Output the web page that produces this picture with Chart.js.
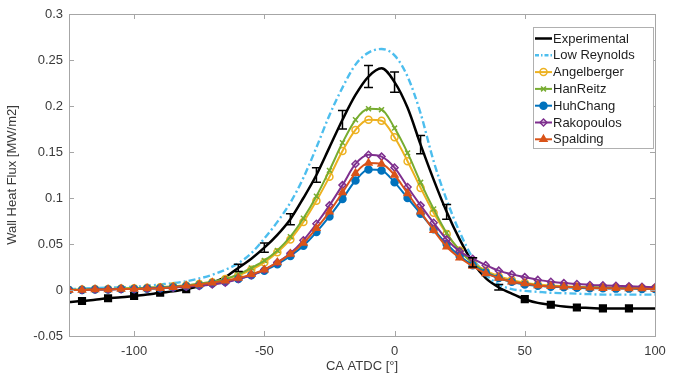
<!DOCTYPE html>
<html>
<head>
<meta charset="utf-8">
<script src="https://cdn.jsdelivr.net/npm/chart.js@4.4.1/dist/chart.umd.min.js"></script>
<style>
  html, body { margin: 0; padding: 0; background: #fff; }
  #contenedor { width: 679px; height: 375px; }
</style>
</head>
<body>
<div id="contenedor"><canvas id="grafico" width="679" height="375"></canvas></div>
<script>
// Ángulo de cigüeñal (CA ATDC, grados)
const angulos = [-125, -120, -115, -110, -105, -100, -95, -90, -85, -80, -75, -70, -65, -60, -55, -50,
  -45, -40, -35, -30, -25, -20, -15, -10, -5, 0, 5, 10, 15, 20, 25, 30, 35, 40, 45, 50, 55, 60, 65, 70,
  75, 80, 85, 90, 95, 100];

// Flujo de calor en pared [MW/m2] por modelo
const flujoExperimental = [-0.013, -0.012, -0.0105, -0.009, -0.008, -0.0065, -0.005, -0.003, -0.0015, 0.001,
  0.004, 0.008, 0.014, 0.024, 0.034, 0.046, 0.06, 0.077, 0.1, 0.125, 0.155, 0.185, 0.212, 0.232, 0.241,
  0.226, 0.198, 0.158, 0.12, 0.085, 0.055, 0.03, 0.013, 0.003, -0.004, -0.01, -0.014, -0.016, -0.018,
  -0.019, -0.0195, -0.02, -0.02, -0.02, -0.02, -0.02];
const flujoLowReynolds = [0.001, 0.0015, 0.002, 0.0025, 0.003, 0.0035, 0.0045, 0.006, 0.0075, 0.0095,
  0.0125, 0.0165, 0.022, 0.029, 0.04, 0.056, 0.074, 0.095, 0.122, 0.155, 0.19, 0.22, 0.245, 0.258, 0.262,
  0.255, 0.232, 0.192, 0.14, 0.098, 0.063, 0.035, 0.017, 0.006, 0.001, -0.001, -0.002, -0.003, -0.0035,
  -0.004, -0.0045, -0.005, -0.005, -0.005, -0.005, -0.005];
const flujoAngelberger = [0.0, 0.0005, 0.001, 0.001, 0.0015, 0.002, 0.0025, 0.003, 0.004, 0.005, 0.0065,
  0.0085, 0.012, 0.016, 0.022, 0.03, 0.041, 0.055, 0.074, 0.097, 0.123, 0.151, 0.174, 0.185, 0.184, 0.166,
  0.14, 0.111, 0.084, 0.061, 0.043, 0.03, 0.021, 0.015, 0.011, 0.008, 0.006, 0.005, 0.004, 0.0035, 0.003,
  0.003, 0.0025, 0.0025, 0.002, 0.002];
const flujoHanReitz = [0.0, 0.0005, 0.001, 0.001, 0.0015, 0.002, 0.0025, 0.003, 0.004, 0.005, 0.007,
  0.009, 0.012, 0.017, 0.024, 0.032, 0.043, 0.058, 0.078, 0.102, 0.13, 0.16, 0.185, 0.197, 0.196, 0.176,
  0.149, 0.117, 0.088, 0.062, 0.043, 0.029, 0.02, 0.013, 0.009, 0.007, 0.005, 0.004, 0.0035, 0.003, 0.003,
  0.0025, 0.0025, 0.002, 0.002, 0.002];
const flujoHuhChang = [0.0, 0.0, 0.0005, 0.0005, 0.001, 0.001, 0.0015, 0.002, 0.003, 0.004, 0.005, 0.007,
  0.009, 0.012, 0.016, 0.021, 0.028, 0.037, 0.048, 0.063, 0.08, 0.099, 0.119, 0.131, 0.13, 0.117, 0.1,
  0.083, 0.066, 0.05, 0.037, 0.027, 0.019, 0.013, 0.009, 0.006, 0.0045, 0.0035, 0.003, 0.0025, 0.002,
  0.002, 0.0015, 0.0015, 0.001, 0.001];
const flujoRakopoulos = [0.0, 0.0, 0.0005, 0.0005, 0.001, 0.001, 0.0015, 0.002, 0.0025, 0.0035, 0.0045,
  0.006, 0.008, 0.012, 0.016, 0.022, 0.03, 0.04, 0.054, 0.072, 0.092, 0.114, 0.137, 0.147, 0.145, 0.133,
  0.112, 0.092, 0.073, 0.055, 0.042, 0.034, 0.027, 0.021, 0.017, 0.014, 0.011, 0.009, 0.0075, 0.0065,
  0.0055, 0.005, 0.0045, 0.004, 0.0035, 0.003];
const flujoSpalding = [0.0, 0.0, 0.0005, 0.0005, 0.001, 0.001, 0.0015, 0.002, 0.003, 0.0045, 0.006, 0.008,
  0.01, 0.013, 0.017, 0.022, 0.03, 0.039, 0.051, 0.067, 0.085, 0.106, 0.127, 0.138, 0.137, 0.125, 0.105,
  0.085, 0.065, 0.047, 0.035, 0.026, 0.018, 0.013, 0.009, 0.007, 0.005, 0.004, 0.0035, 0.003, 0.0025,
  0.002, 0.002, 0.0015, 0.0015, 0.001];

// Barras de error del experimento (semi-amplitud) y puntos cuadrados
const angulosError = [-60, -50, -40, -30, -20, -10, 0, 10, 20, 30, 40];
const errorExperimental = [0.004, 0.005, 0.006, 0.008, 0.01, 0.012, 0.011, 0.01, 0.008, 0.005, 0.003];
const angulosCuadrados = [-120, -110, -100, -90, -80, 50, 60, 70, 80, 90];

// Marcas de los ejes
const ticksX = [-100, -50, 0, 50, 100];
const ticksY = [-0.05, 0, 0.05, 0.1, 0.15, 0.2, 0.25, 0.3];

const fuente = '"Liberation Sans", Arial, Helvetica, sans-serif';
const colorTexto = '#3a3a3a';
const colorEje = '#a6a6a6';

function serie(valores) {
  return angulos.map((a, i) => ({ x: a, y: valores[i] }));
}

function modelo(nombre, valores, color, estilo, relleno, orden) {
  return {
    label: nombre,
    data: serie(valores),
    borderColor: color,
    borderWidth: 2,
    pointStyle: estilo,
    pointRadius: estilo === 'triangle' ? 4 : 3.5,
    pointBorderWidth: 1.5,
    pointBorderColor: color,
    pointBackgroundColor: relleno ? color : 'rgba(0,0,0,0)',
    cubicInterpolationMode: 'monotone',
    order: orden
  };
}

const datasets = [
  {
    label: 'Experimental',
    data: serie(flujoExperimental),
    borderColor: '#000000',
    borderWidth: 2.5,
    pointStyle: 'rect',
    pointRadius: ctx => angulosCuadrados.includes(angulos[ctx.dataIndex]) ? 4 : 0,
    pointBackgroundColor: '#000000',
    pointBorderColor: '#000000',
    cubicInterpolationMode: 'monotone',
    order: 7
  },
  {
    label: 'Low Reynolds',
    data: serie(flujoLowReynolds),
    borderColor: '#4DBEEE',
    borderWidth: 2.4,
    borderDash: [7, 3, 2, 3],
    pointRadius: 0,
    cubicInterpolationMode: 'monotone',
    order: 6
  },
  modelo('Angelberger', flujoAngelberger, '#EDB120', 'circle', false, 5),
  modelo('HanReitz', flujoHanReitz, '#77AC30', 'crossRot', false, 4),
  modelo('HuhChang', flujoHuhChang, '#0072BD', 'circle', true, 3),
  modelo('Rakopoulos', flujoRakopoulos, '#7E2F8E', 'rectRot', false, 2),
  modelo('Spalding', flujoSpalding, '#D95319', 'triangle', true, 1)
];

// Dibuja un marcador pequeño para la leyenda
function dibujarMarcador(ctx, ds, x, y) {
  const estilo = ds.pointStyle;
  if (!estilo || typeof ds.pointRadius !== 'number' || ds.pointRadius === 0) return;
  const r = ds.pointRadius;
  ctx.save();
  ctx.strokeStyle = ds.pointBorderColor;
  ctx.fillStyle = ds.pointBackgroundColor;
  ctx.lineWidth = ds.pointBorderWidth;
  ctx.beginPath();
  if (estilo === 'circle') {
    ctx.arc(x, y, r, 0, Math.PI * 2);
  } else if (estilo === 'crossRot') {
    const d = r * Math.SQRT1_2;
    ctx.moveTo(x - d, y - d); ctx.lineTo(x + d, y + d);
    ctx.moveTo(x + d, y - d); ctx.lineTo(x - d, y + d);
  } else if (estilo === 'rectRot') {
    ctx.moveTo(x, y - r); ctx.lineTo(x + r, y); ctx.lineTo(x, y + r); ctx.lineTo(x - r, y); ctx.closePath();
  } else if (estilo === 'triangle') {
    ctx.moveTo(x, y - r); ctx.lineTo(x + r * 0.87, y + r * 0.5); ctx.lineTo(x - r * 0.87, y + r * 0.5); ctx.closePath();
  }
  if (estilo !== 'crossRot') ctx.fill();
  ctx.stroke();
  ctx.restore();
}

const extras = {
  id: 'extras',
  afterDatasetsDraw(chart) {
    const { ctx, scales: { x, y } } = chart;
    ctx.save();
    ctx.strokeStyle = '#000000';
    ctx.lineWidth = 1.5;
    angulosError.forEach((a, i) => {
      const v = flujoExperimental[angulos.indexOf(a)];
      const e = errorExperimental[i];
      const px = x.getPixelForValue(a);
      const y1 = y.getPixelForValue(v + e);
      const y2 = y.getPixelForValue(v - e);
      ctx.beginPath();
      ctx.moveTo(px, y1); ctx.lineTo(px, y2);
      ctx.moveTo(px - 4.5, y1); ctx.lineTo(px + 4.5, y1);
      ctx.moveTo(px - 4.5, y2); ctx.lineTo(px + 4.5, y2);
      ctx.stroke();
    });
    ctx.restore();
  },
  afterDraw(chart) {
    const { ctx, chartArea: a, scales: { x, y } } = chart;
    ctx.save();
    // Caja de los ejes
    ctx.strokeStyle = colorEje;
    ctx.lineWidth = 1;
    ctx.strokeRect(Math.round(a.left) + 0.5, Math.round(a.top) + 0.5,
      Math.round(a.right - a.left), Math.round(a.bottom - a.top));
    // Marcas hacia dentro
    ctx.beginPath();
    ticksX.forEach(v => {
      const px = Math.round(x.getPixelForValue(v)) + 0.5;
      if (px <= a.left + 1 || px >= a.right - 1) return;
      ctx.moveTo(px, a.bottom); ctx.lineTo(px, a.bottom - 5);
      ctx.moveTo(px, a.top); ctx.lineTo(px, a.top + 5);
    });
    ticksY.forEach(v => {
      const py = Math.round(y.getPixelForValue(v)) + 0.5;
      if (py <= a.top + 1 || py >= a.bottom - 1) return;
      ctx.moveTo(a.left, py); ctx.lineTo(a.left + 5, py);
      ctx.moveTo(a.right, py); ctx.lineTo(a.right - 5, py);
    });
    ctx.stroke();

    // Leyenda dentro del área
    const lx = 533, ly = 27, lw = 120, lh = 121;
    ctx.fillStyle = '#ffffff';
    ctx.fillRect(lx, ly, lw, lh);
    ctx.strokeStyle = '#b0b0b0';
    ctx.strokeRect(lx + 0.5, ly + 0.5, lw, lh);
    ctx.font = '13px ' + fuente;
    ctx.textBaseline = 'middle';
    chart.data.datasets.forEach((ds, i) => {
      const yy = ly + 11.5 + i * 16.8;
      ctx.save();
      ctx.strokeStyle = ds.borderColor;
      ctx.lineWidth = ds.borderWidth;
      if (ds.borderDash) ctx.setLineDash([4, 2, 1.5, 2]);
      ctx.beginPath();
      ctx.moveTo(lx + 2, yy); ctx.lineTo(lx + 19, yy);
      ctx.stroke();
      ctx.restore();
      dibujarMarcador(ctx, ds, lx + 10.5, yy);
      ctx.fillStyle = '#1e1e1e';
      ctx.fillText(ds.label, lx + 20, yy + 0.5);
    });
    ctx.restore();
  }
};

new Chart(document.getElementById('grafico').getContext('2d'), {
  type: 'line',
  data: { datasets: datasets },
  plugins: [extras],
  options: {
    responsive: false,
    animation: false,
    devicePixelRatio: 1,
    layout: { padding: { left: 0, right: 24, top: 14, bottom: 0 } },
    plugins: { legend: { display: false }, tooltip: { enabled: false } },
    scales: {
      x: {
        type: 'linear',
        min: -125,
        max: 100,
        afterBuildTicks: s => { s.ticks = ticksX.map(v => ({ value: v })); },
        afterFit: s => { s.height = 39; },
        grid: { display: false, drawTicks: false },
        border: { display: false },
        ticks: { color: colorTexto, font: { family: fuente, size: 13 }, padding: 8, maxRotation: 0,
          callback: v => String(v) },
        title: { display: true, text: 'CA ATDC [°]', color: colorTexto,
          font: { family: fuente, size: 13 }, padding: { top: 0, bottom: 1 } }
      },
      y: {
        min: -0.05,
        max: 0.3,
        afterBuildTicks: s => { s.ticks = ticksY.map(v => ({ value: v })); },
        afterFit: s => { s.width = 69; },
        grid: { display: false, drawTicks: false },
        border: { display: false },
        ticks: { color: colorTexto, font: { family: fuente, size: 13 }, padding: 6,
          callback: v => String(Math.round(v * 100) / 100) },
        title: { display: true, text: 'Wall Heat Flux [MW/m2]', color: colorTexto,
          font: { family: fuente, size: 13 }, padding: { top: 5, bottom: 0 } }
      }
    }
  }
});
</script>
</body>
</html>
